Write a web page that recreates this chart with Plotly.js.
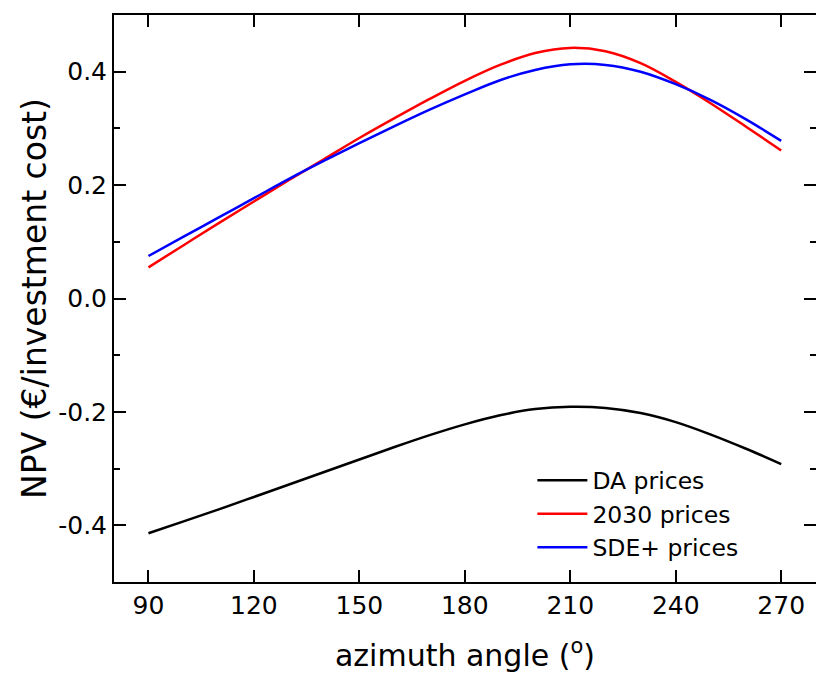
<!DOCTYPE html>
<html>
<head>
<meta charset="utf-8">
<script src="https://cdn.plot.ly/plotly-3.0.1.min.js"></script>
<style>html,body{margin:0;padding:0;background:#fff;}#chart{width:816px;height:673px;}</style>
</head>
<body>
<div id="chart"></div>
<script>
const azimuth = [90,100,110,120,130,140,150,160,170,180,190,200,210,220,230,240,250,260,270];
const daPrices = [-0.414,-0.393,-0.372,-0.350,-0.328,-0.306,-0.284,-0.262,-0.241,-0.222,-0.206,-0.195,-0.191,-0.193,-0.202,-0.218,-0.240,-0.265,-0.292];
const prices2030 = [0.055,0.094,0.133,0.171,0.209,0.246,0.283,0.318,0.352,0.384,0.412,0.433,0.442,0.436,0.415,0.382,0.344,0.303,0.261];
const sdePrices = [0.075,0.109,0.143,0.177,0.211,0.243,0.274,0.304,0.333,0.360,0.385,0.403,0.413,0.412,0.400,0.378,0.350,0.316,0.278];
const seriesNames = ['DA prices','2030 prices','SDE+ prices'];
const xTickVals = [90,120,150,180,210,240,270];
const yTickVals = [-0.4,-0.2,0.0,0.2,0.4];
const yTickText = ['-0.4','-0.2','0.0','0.2','0.4'];

const font = 'DejaVu Sans, Verdana, sans-serif';
const mk = (y, name, color) => ({
  x: azimuth, y: y, name: name, type: 'scatter', mode: 'lines',
  line: {color: color, width: 2.5, shape: 'spline', smoothing: 1}
});
const data = [
  mk(daPrices, seriesNames[0], '#000000'),
  mk(prices2030, seriesNames[1], '#ff0000'),
  mk(sdePrices, seriesNames[2], '#0000ff')
];
const axisCommon = {
  showline: true, linecolor: '#000', linewidth: 2, mirror: 'ticks',
  ticks: 'inside', ticklen: 12, tickwidth: 2, tickcolor: '#000',
  showgrid: false, zeroline: false,
  tickfont: {family: font, size: 25, color: '#000'}
};
const layout = {
  width: 816, height: 673,
  margin: {l: 114, r: 0, t: 15, b: 91},
  paper_bgcolor: '#fff', plot_bgcolor: '#fff',
  showlegend: true,
  legend: {x: 0.596, y: 0.218, xanchor: 'left', yanchor: 'top', bgcolor: 'rgba(0,0,0,0)',
           font: {family: font, size: 23.5, color: '#000'}, tracegroupgap: 0, itemwidth: 50},
  xaxis: Object.assign({}, axisCommon, {
    range: [80.2, 279.9], tickvals: xTickVals,
    title: {text: 'azimuth angle (<sup>o</sup>)', font: {family: font, size: 30, color: '#000'}, standoff: 27}
  }),
  yaxis: Object.assign({}, axisCommon, {
    range: [-0.5, 0.5], tickvals: yTickVals, ticktext: yTickText,
    minor: {dtick: 0.1, tick0: 0, ticks: 'inside', ticklen: 6, tickwidth: 2, tickcolor: '#000'},
    title: {text: 'NPV (€/investment cost)', font: {family: font, size: 33, color: '#000'}, standoff: 2}
  })
};
Plotly.newPlot('chart', data, layout, {displayModeBar: false, staticPlot: true});
</script>
</body>
</html>
